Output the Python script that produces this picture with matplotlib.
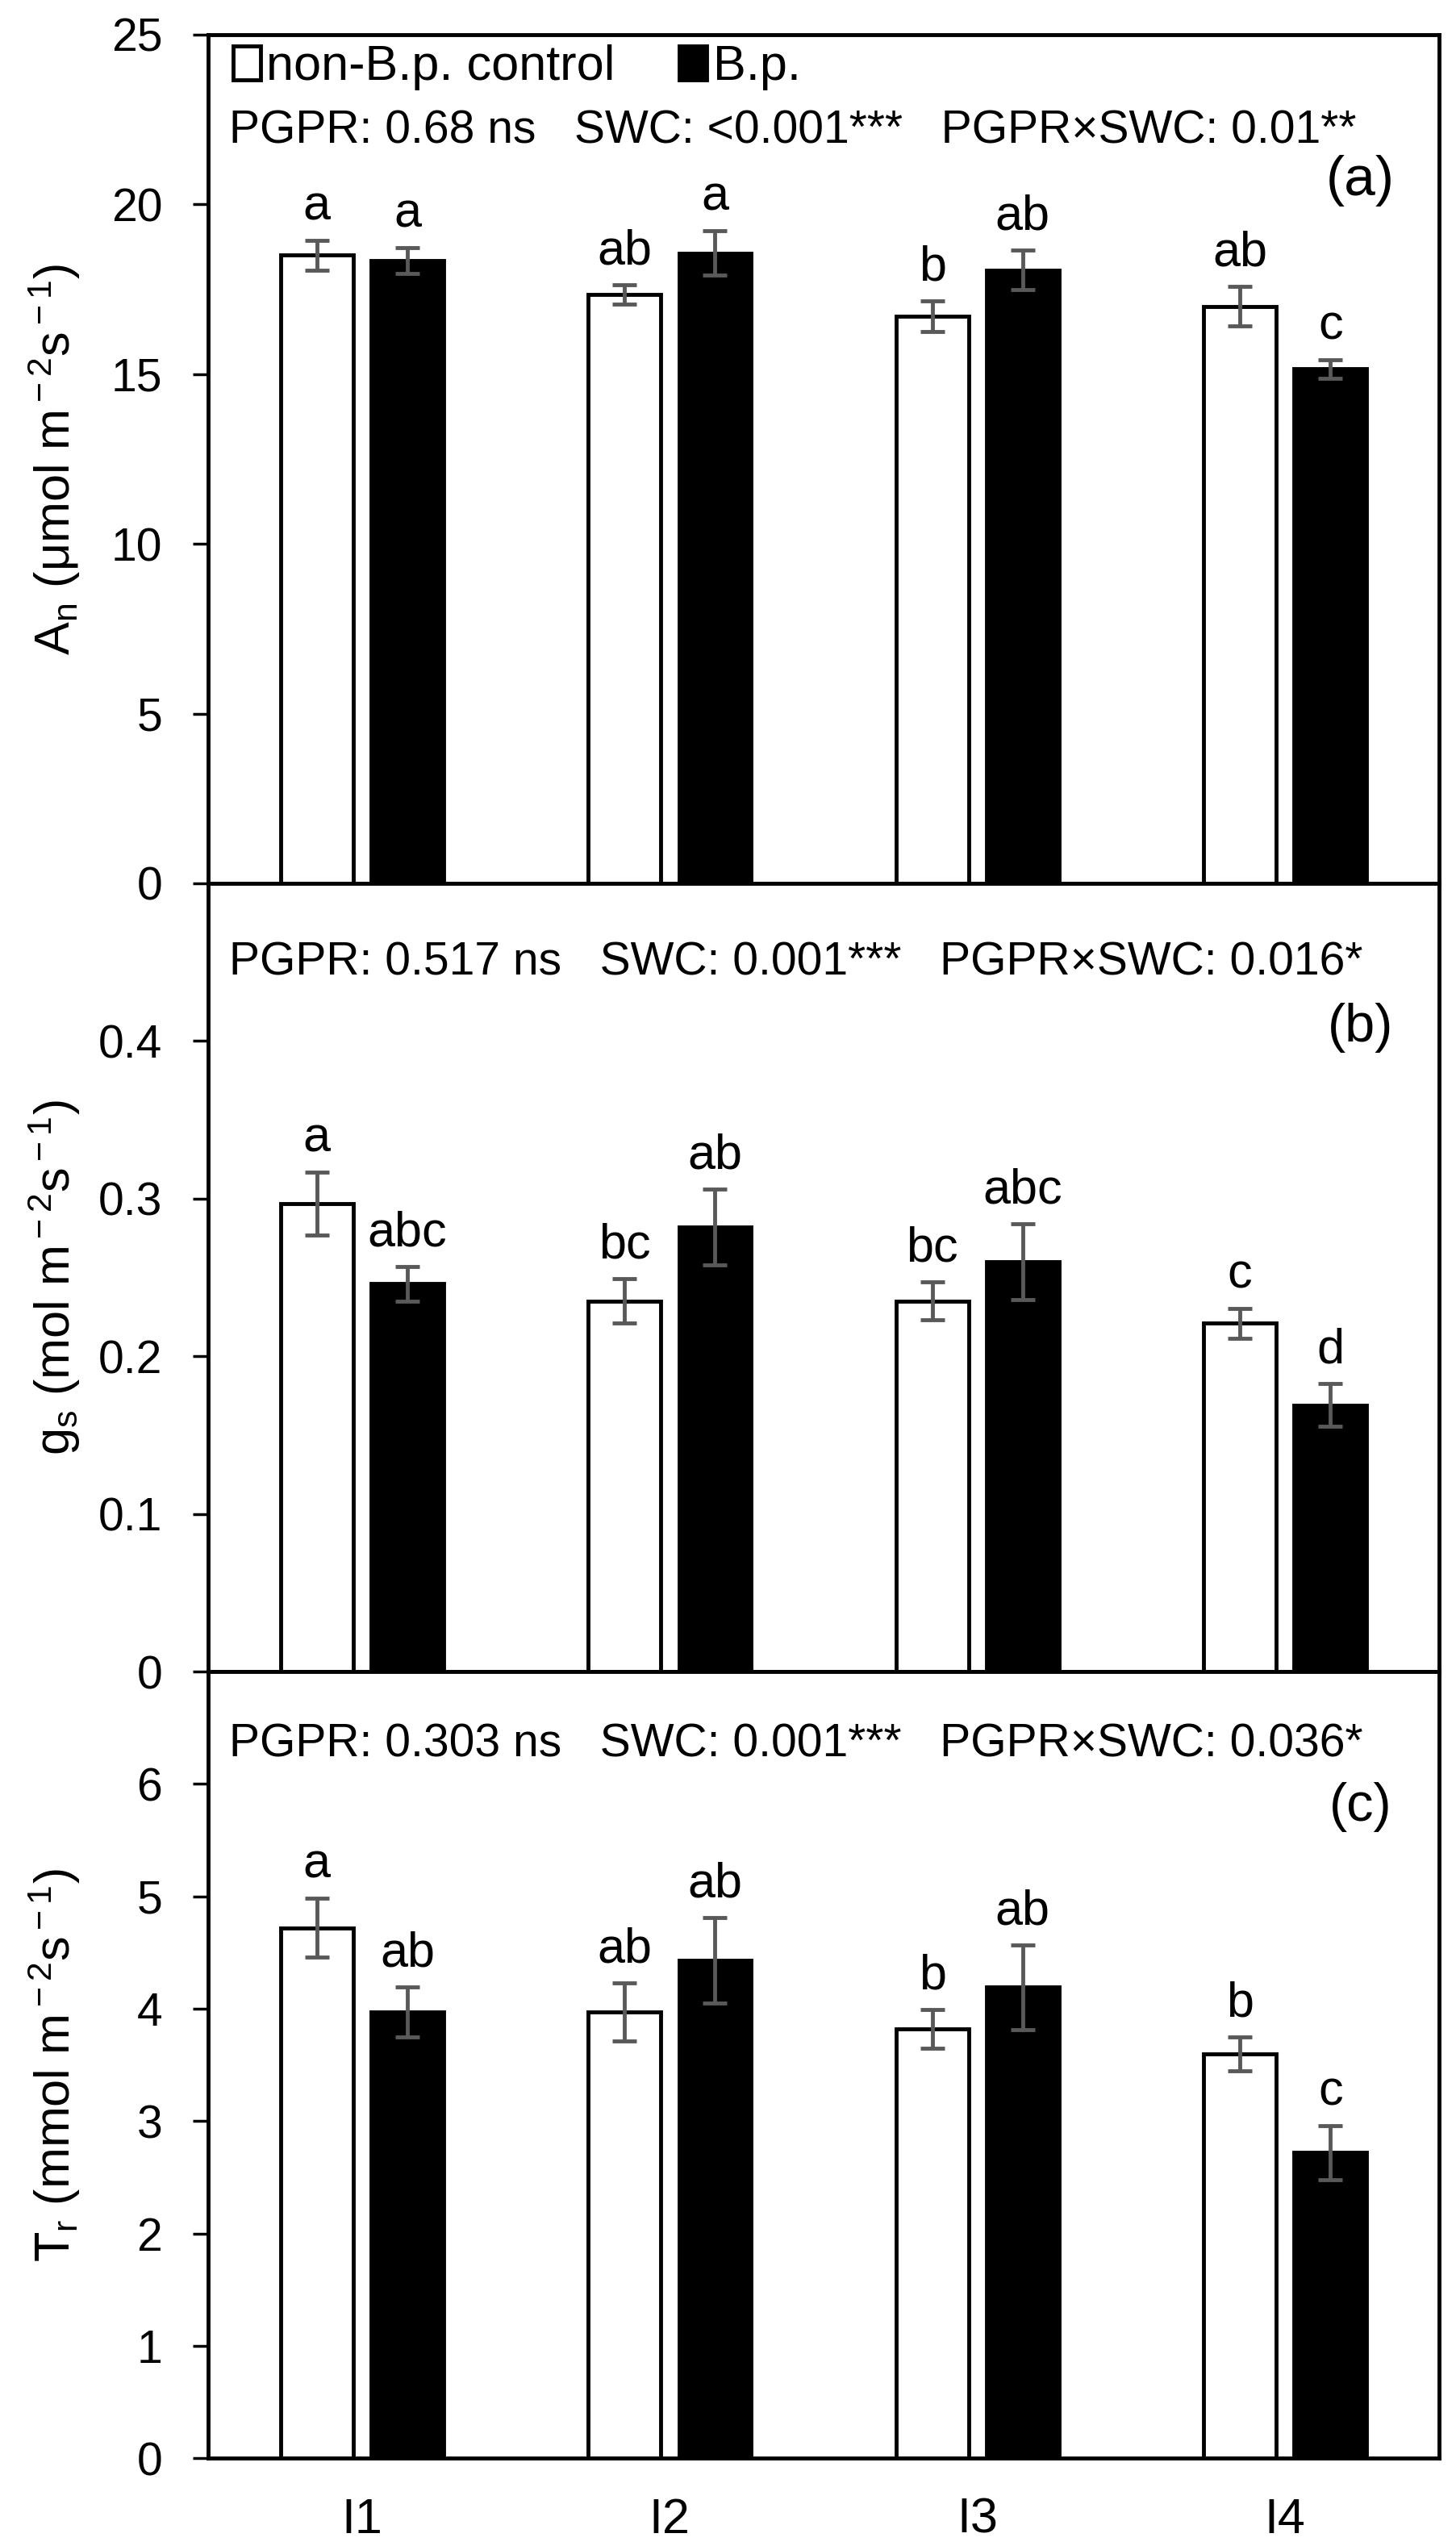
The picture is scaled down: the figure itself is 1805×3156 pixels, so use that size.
import matplotlib
matplotlib.use("Agg")
import matplotlib.pyplot as plt
import numpy as np

plt.rcParams['font.family'] = ['Liberation Sans', 'DejaVu Sans']
plt.rcParams['mathtext.fontset'] = 'custom'
plt.rcParams['mathtext.rm'] = 'Liberation Sans'
plt.rcParams['mathtext.it'] = 'Liberation Sans:italic'

groups = ["I1", "I2", "I3", "I4"]
series_names = ["non-B.p. control", "B.p."]

# An (umol m-2 s-1)
an_ctrl = [18.5, 17.35, 16.7, 17.0]
an_ctrl_err = [0.45, 0.28, 0.45, 0.58]
an_bp = [18.35, 18.57, 18.07, 15.15]
an_bp_err = [0.38, 0.65, 0.58, 0.28]
an_ctrl_let = ["a", "ab", "b", "ab"]
an_bp_let = ["a", "a", "ab", "c"]

# gs (mol m-2 s-1)
gs_ctrl = [0.297, 0.235, 0.235, 0.221]
gs_ctrl_err = [0.020, 0.014, 0.012, 0.0095]
gs_bp = [0.246, 0.282, 0.260, 0.169]
gs_bp_err = [0.011, 0.024, 0.024, 0.0135]
gs_ctrl_let = ["a", "bc", "bc", "c"]
gs_bp_let = ["abc", "ab", "abc", "d"]

# Tr (mmol m-2 s-1)
tr_ctrl = [4.72, 3.97, 3.82, 3.60]
tr_ctrl_err = [0.26, 0.26, 0.17, 0.15]
tr_bp = [3.97, 4.43, 4.19, 2.72]
tr_bp_err = [0.22, 0.38, 0.38, 0.24]
tr_ctrl_let = ["a", "ab", "b", "b"]
tr_bp_let = ["ab", "ab", "ab", "c"]

stats = [
    "PGPR: 0.68 ns   SWC: <0.001***   PGPR\u00d7SWC: 0.01**",
    "PGPR: 0.517 ns   SWC: 0.001***   PGPR\u00d7SWC: 0.016*",
    "PGPR: 0.303 ns   SWC: 0.001***   PGPR\u00d7SWC: 0.036*",
]
panel_tags = ["(a)", "(b)", "(c)"]
ylabels = [r"A$_{\rm n}$ (μmol m$^{\rm -2}$s$^{\rm -1}$)",
           r"g$_{\rm s}$ (mol m$^{\rm -2}$s$^{\rm -1}$)",
           r"T$_{\rm r}$ (mmol m$^{\rm -2}$s$^{\rm -1}$)"]
yticks = [[0, 5, 10, 15, 20, 25], [0, 0.1, 0.2, 0.3, 0.4], [0, 1, 2, 3, 4, 5, 6]]
ytick_labels = [["0", "5", "10", "15", "20", "25"],
                ["0", "0.1", "0.2", "0.3", "0.4"],
                ["0", "1", "2", "3", "4", "5", "6"]]
ylims = [(0, 25), (0, 0.5), (0, 7)]

fig = plt.figure(figsize=(18.06, 31.56), dpi=100)
gsp = fig.add_gridspec(3, 1, height_ratios=[1052, 977, 975], hspace=0,
                       left=0.1429, right=0.9878, top=0.9864, bottom=0.0345)

bar_w = 0.235
offset = 0.147
err_color = "#595959"
x = np.arange(len(groups))


def draw_panel(ax, ctrl, ctrl_err, bp, bp_err, ctrl_let, bp_let):
    b1 = ax.bar(x - offset, ctrl, bar_w, color="white", edgecolor="black", linewidth=3.5, zorder=2)
    b2 = ax.bar(x + offset, bp, bar_w, color="black", edgecolor="black", linewidth=3.5, zorder=2)
    for pos, val, err in [(x - offset, ctrl, ctrl_err), (x + offset, bp, bp_err)]:
        ax.errorbar(pos, val, yerr=err, fmt="none", ecolor=err_color, elinewidth=3.5,
                    capsize=11, capthick=3.5, zorder=3)
    for i in range(len(groups)):
        ax.annotate(ctrl_let[i], (x[i] - offset, ctrl[i] + ctrl_err[i]), xytext=(0, 9),
                    textcoords="offset points", ha="center", va="bottom", fontsize=44)
        ax.annotate(bp_let[i], (x[i] + offset, bp[i] + bp_err[i]), xytext=(0, 9),
                    textcoords="offset points", ha="center", va="bottom", fontsize=44)
    return b1, b2


panels = [
    (an_ctrl, an_ctrl_err, an_bp, an_bp_err, an_ctrl_let, an_bp_let),
    (gs_ctrl, gs_ctrl_err, gs_bp, gs_bp_err, gs_ctrl_let, gs_bp_let),
    (tr_ctrl, tr_ctrl_err, tr_bp, tr_bp_err, tr_ctrl_let, tr_bp_let),
]
stat_y = [0.886, 0.899, 0.907]
tag_y = [0.828, 0.817, 0.828]
tag_size = [50, 48, 48]

axes = []
for k, p in enumerate(panels):
    ax = fig.add_subplot(gsp[k])
    axes.append(ax)
    bars = draw_panel(ax, *p)
    ax.set_xlim(-0.5, len(groups) - 0.5)
    ax.set_ylim(*ylims[k])
    ax.set_yticks(yticks[k])
    ax.set_yticklabels(ytick_labels[k])
    ax.tick_params(axis="y", direction="out", length=14, width=2.5, labelsize=41, pad=27)
    for s in ax.spines.values():
        s.set_linewidth(3.5)
    ax.text(0.017, stat_y[k], stats[k], transform=ax.transAxes, ha="left", va="center", fontsize=41)
    ax.text(0.936, tag_y[k], panel_tags[k], transform=ax.transAxes, ha="center", va="center",
            fontsize=tag_size[k])
    ax.text(-0.125, 0.5, ylabels[k], transform=ax.transAxes, ha="center", va="center",
            rotation=90, fontsize=44)
    if k == 0:
        ax.legend(bars, series_names, loc="center left", bbox_to_anchor=(0.02, 0.961),
                  ncol=2, frameon=False, fontsize=44, borderaxespad=0, borderpad=0,
                  handlelength=0.56, handleheight=0.66, handletextpad=0.12, columnspacing=1.3)
    if k < 2:
        ax.set_xticks([])
    else:
        ax.set_xticks(x)
        ax.set_xticklabels(groups)
        ax.tick_params(axis="x", length=0, labelsize=44, pad=35)

plt.savefig("out.png", dpi=100)
